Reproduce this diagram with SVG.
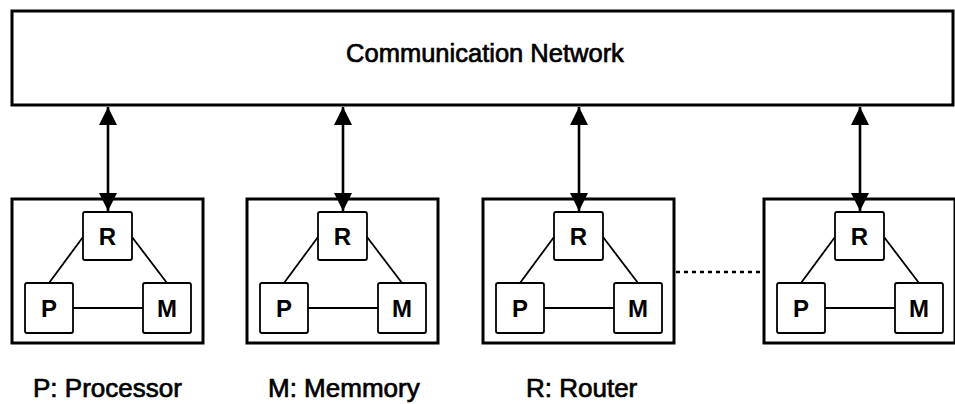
<svg xmlns="http://www.w3.org/2000/svg" width="955" height="404" viewBox="0 0 955 404">
  <style>
    .bg { fill: #ffffff; }
    .net { fill: #ffffff; stroke: #000; stroke-width: 3; }
    .outer { fill: #ffffff; stroke: #000; stroke-width: 3; }
    .inner { fill: #ffffff; stroke: #000; stroke-width: 1.8; }
    .link { stroke: #000; stroke-width: 1.8; fill: none; }
    .bus { stroke: #000; stroke-width: 2.6; fill: none; }
    .dots { stroke: #000; stroke-width: 2.6; stroke-dasharray: 4 4; fill: none; }
    text { font-family: "Liberation Sans", Arial, Helvetica, sans-serif; fill: #000; }
    .title { font-size: 25.5px; text-anchor: middle; stroke: #000; stroke-width: 0.7; }
    .letter { font-size: 24px; font-weight: bold; text-anchor: middle; }
    .legend { font-size: 26px; stroke: #000; stroke-width: 0.7; }
  </style>
  <defs>
    <marker id="head" viewBox="0 0 10 10" refX="10" refY="5" markerWidth="7" markerHeight="7" markerUnits="strokeWidth" orient="auto-start-reverse">
      <path d="M0,0 L10,5 L0,10 z" fill="#000"/>
    </marker>
    <!-- one processing node: frame plus the links between router, processor and memory -->
    <g id="cell">
      <rect class="outer" x="0" y="199" width="191" height="144"/>
      <line class="link" x1="71" y1="237" x2="37" y2="283"/>
      <line class="link" x1="120" y1="237" x2="155" y2="283"/>
      <line class="link" x1="61" y1="308" x2="131" y2="308"/>
    </g>
  </defs>

  <rect class="bg" x="0" y="0" width="955" height="404"/>

  <g id="network">
    <rect class="net" x="12" y="11" width="941" height="94"/>
    <text class="title" x="485" y="62">Communication Network</text>
  </g>

  <g id="node1" transform="translate(12,0)">
    <use href="#cell"/>
    <g id="node1-R"><rect class="inner" x="71" y="212" width="49" height="48" rx="2"/><text class="letter" x="95.5" y="245">R</text></g>
    <g id="node1-P"><rect class="inner" x="13" y="283" width="48" height="50" rx="2"/><text class="letter" x="37" y="317">P</text></g>
    <g id="node1-M"><rect class="inner" x="131" y="283" width="48" height="50" rx="2"/><text class="letter" x="155" y="317">M</text></g>
  </g>

  <g id="node2" transform="translate(247,0)">
    <use href="#cell"/>
    <g id="node2-R"><rect class="inner" x="71" y="212" width="49" height="48" rx="2"/><text class="letter" x="95.5" y="245">R</text></g>
    <g id="node2-P"><rect class="inner" x="13" y="283" width="48" height="50" rx="2"/><text class="letter" x="37" y="317">P</text></g>
    <g id="node2-M"><rect class="inner" x="131" y="283" width="48" height="50" rx="2"/><text class="letter" x="155" y="317">M</text></g>
  </g>

  <g id="node3" transform="translate(483,0)">
    <use href="#cell"/>
    <g id="node3-R"><rect class="inner" x="71" y="212" width="49" height="48" rx="2"/><text class="letter" x="95.5" y="245">R</text></g>
    <g id="node3-P"><rect class="inner" x="13" y="283" width="48" height="50" rx="2"/><text class="letter" x="37" y="317">P</text></g>
    <g id="node3-M"><rect class="inner" x="131" y="283" width="48" height="50" rx="2"/><text class="letter" x="155" y="317">M</text></g>
  </g>

  <g id="node4" transform="translate(764,0)">
    <use href="#cell"/>
    <g id="node4-R"><rect class="inner" x="71" y="212" width="49" height="48" rx="2"/><text class="letter" x="95.5" y="245">R</text></g>
    <g id="node4-P"><rect class="inner" x="13" y="283" width="48" height="50" rx="2"/><text class="letter" x="37" y="317">P</text></g>
    <g id="node4-M"><rect class="inner" x="131" y="283" width="48" height="50" rx="2"/><text class="letter" x="155" y="317">M</text></g>
  </g>

  <g id="connectors">
    <line class="bus" x1="108" y1="107" x2="108" y2="211" marker-start="url(#head)" marker-end="url(#head)"/>
    <line class="bus" x1="343" y1="107" x2="343" y2="211" marker-start="url(#head)" marker-end="url(#head)"/>
    <line class="bus" x1="579" y1="107" x2="579" y2="211" marker-start="url(#head)" marker-end="url(#head)"/>
    <line class="bus" x1="860" y1="107" x2="860" y2="211" marker-start="url(#head)" marker-end="url(#head)"/>
    <line class="dots" x1="676" y1="272" x2="762" y2="272"/>
  </g>

  <g id="legend">
    <text class="legend" x="33" y="397">P: Processor</text>
    <text class="legend" x="268" y="397">M: Memmory</text>
    <text class="legend" x="526" y="397">R: Router</text>
  </g>
</svg>
